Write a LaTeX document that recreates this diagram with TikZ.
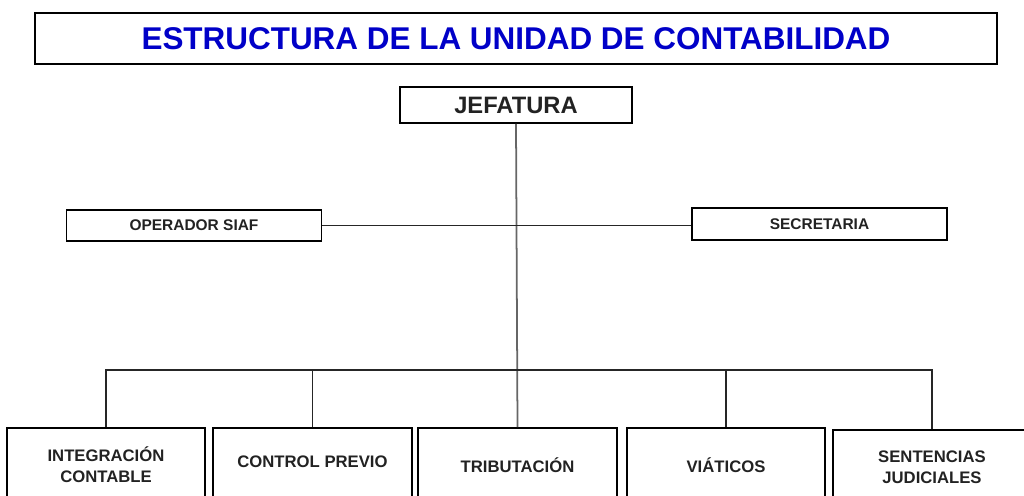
\documentclass[tikz,border=0pt]{standalone}
\usepackage{fontspec}
\setmainfont{Liberation Sans}
\usepackage{tikz}
\definecolor{titleblue}{RGB}{0,0,200}
\definecolor{boxtext}{RGB}{34,34,34}

\begin{document}
\begin{tikzpicture}[
  x=0.02cm, y=-0.02cm,
  every node/.style={align=center,text=boxtext,font=\bfseries},
  banner/.style={draw,line width=1.1pt,minimum width=19.24cm,minimum height=1.02cm,inner sep=0pt},
  block/.style={draw,line width=0.9pt,inner sep=0pt},
  head/.style={block,minimum width=4.64cm,minimum height=0.72cm,font=\bfseries\fontsize{13.5}{16}\selectfont},
  staff/.style={block,minimum width=5.1cm,minimum height=0.63cm,font=\bfseries\fontsize{8.8}{10}\selectfont},
  unit/.style={block,minimum width=3.97cm,minimum height=1.48cm,font=\bfseries\fontsize{9.5}{12}\selectfont},
  link/.style={line width=1pt,draw=black!85}]

  \clip (0,0) rectangle (1024,495);

  % Position the nodes at their places
  \node[banner] (Title) at (516,38.5) {\textcolor{titleblue}{\fontsize{17.9}{20}\selectfont ESTRUCTURA DE LA UNIDAD DE CONTABILIDAD}};
  \node[head] (Jefatura) at (516,105) {JEFATURA};
  \node[staff] (Siaf) at (194,225.5) {OPERADOR SIAF};
  \node[staff] (Secretaria) at (819.5,224) {SECRETARIA};
  \node[unit] (Integracion) at (106,465) {INTEGRACIÓN\\CONTABLE};
  \node[unit] (Control) at (312.5,465) {\raisebox{4pt}{CONTROL PREVIO}};
  \node[unit] (Tributacion) at (517.5,465) {TRIBUTACIÓN};
  \node[unit] (Viaticos) at (726,465) {VIÁTICOS};
  \node[unit] (Sentencias) at (932,467) {SENTENCIAS\\JUDICIALES};
  \coordinate (Bus) at (515,370);

  % Draw the lines between the nodes
  \draw[link,draw=black!60] (Jefatura.south) -- (Tributacion.north);
  \draw[link] (Siaf.east) -- (Siaf.east -| Secretaria.west);
  \draw[link] (Integracion.north) -- (Integracion.north |- Bus) -- (Sentencias.north |- Bus) -- (Sentencias.north);
  \draw[link] (Control.north) -- (Control.north |- Bus);
  \draw[link] (Viaticos.north) -- (Viaticos.north |- Bus);
\end{tikzpicture}
\end{document}
